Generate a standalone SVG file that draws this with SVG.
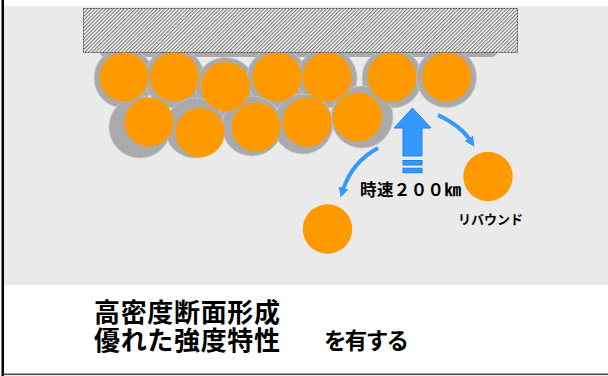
<svg xmlns="http://www.w3.org/2000/svg" width="608" height="376" viewBox="0 0 608 376">
  <defs>
    <pattern id="hatch" width="2.6" height="2.6" patternUnits="userSpaceOnUse" patternTransform="rotate(45)">
      <rect width="2.6" height="2.6" fill="#ffffff"/>
      <line x1="0.6" y1="0" x2="0.6" y2="2.6" stroke="#7f7f7f" stroke-width="1.3"/>
    </pattern>
    <marker id="head" markerUnits="userSpaceOnUse" markerWidth="12" markerHeight="12" refX="2" refY="5" orient="auto">
      <path d="M0,0 L10,5 L0,10 Z" fill="#3399ff"/>
    </marker>
    <style>
      .shadow { fill: #aaaaaa; stroke: #c6c6c6; stroke-width: 0.8; }
      .ball { fill: #ff9900; }
      .arc { fill: none; stroke: #3399ff; stroke-width: 4; marker-end: url(#head); }
      .arrow { fill: #3399ff; stroke: #1f80e6; stroke-width: 1; }
      .jp { font-family: "Noto Sans CJK JP", "Noto Sans CJK SC", sans-serif; font-weight: bold; fill: #000000; }
    </style>
  </defs>

  <!-- panels -->
  <rect x="0" y="0" width="608" height="376" fill="#ffffff"/>
  <rect x="3" y="6" width="605" height="279" fill="#eaeaea"/>
  <rect x="1.5" y="0" width="2.5" height="376" fill="#000000"/>
  <rect x="3" y="373.5" width="605" height="1.6" fill="#444444"/>

  <!-- shadow strip under the plate -->
  <rect x="100" y="44" width="397" height="13" rx="5" fill="#aaaaaa"/>

  <!-- fibre shadows -->
  <g id="shadows">
    <circle class="shadow" cx="124" cy="78" r="30"/>
    <circle class="shadow" cx="174.5" cy="78" r="30"/>
    <circle class="shadow" cx="225.5" cy="87.5" r="30"/>
    <circle class="shadow" cx="277" cy="78" r="30"/>
    <circle class="shadow" cx="327" cy="78" r="30"/>
    <circle class="shadow" cx="392" cy="78" r="30"/>
    <circle class="shadow" cx="446.5" cy="77.5" r="30"/>
    <circle class="shadow" cx="140" cy="127" r="31"/>
    <circle class="shadow" cx="195" cy="128" r="30"/>
    <circle class="shadow" cx="252" cy="126" r="30"/>
    <circle class="shadow" cx="303" cy="124" r="30"/>
    <circle class="shadow" cx="362" cy="117" r="31"/>
  </g>

  <!-- plate -->
  <g id="plate">
    <rect x="83.5" y="8.5" width="434" height="44" fill="url(#hatch)" stroke="#555555" stroke-width="1" stroke-dasharray="2 1"/>
  </g>

  <!-- fibres -->
  <g id="fibres">
    <circle class="ball" cx="124" cy="77" r="24.5"/>
    <circle class="ball" cx="174.5" cy="77" r="24.5"/>
    <circle class="ball" cx="225.5" cy="86.5" r="24.5"/>
    <circle class="ball" cx="277" cy="77" r="24.5"/>
    <circle class="ball" cx="327" cy="77" r="24.5"/>
    <circle class="ball" cx="392" cy="77" r="24.5"/>
    <circle class="ball" cx="446.5" cy="77" r="24.5"/>
    <circle class="ball" cx="149" cy="122" r="24.5"/>
    <circle class="ball" cx="200" cy="132.5" r="24.5"/>
    <circle class="ball" cx="256" cy="127" r="24.5"/>
    <circle class="ball" cx="307" cy="122" r="24.5"/>
    <circle class="ball" cx="357.5" cy="117" r="24.5"/>
  </g>

  <!-- balls -->
  <g id="ball-fallen">
    <circle class="ball" cx="327.5" cy="229" r="24.7"/>
  </g>
  <g id="ball-rebound">
    <circle class="ball" cx="488" cy="176.5" r="24.7"/>
    <text class="jp" x="458" y="224" font-size="13" textLength="65">リバウンド</text>
  </g>

  <!-- impact arrow -->
  <g id="impact">
    <polygon class="arrow" points="412.5,108 431,128 422,128 422,156 403,156 403,128 394,128"/>
    <rect class="arrow" x="403" y="160.5" width="19" height="4.5" stroke="none"/>
    <rect class="arrow" x="403" y="168.2" width="19" height="4.5" stroke="none"/>
    <text class="jp" x="360" y="195.5" font-size="16.5" textLength="101">時速２００㎞</text>
  </g>

  <!-- connectors -->
  <g id="connectors">
    <path class="arc" d="M378,148 Q352,162 343,190"/>
    <path class="arc" d="M438,115 Q461,126 470,140"/>
  </g>

  <!-- caption -->
  <g id="caption">
    <text class="jp" font-size="26">
      <tspan x="94" y="322" textLength="186">高密度断面形成</tspan>
      <tspan x="94" y="350" textLength="186">優れた強度特性</tspan>
    </text>
    <text class="jp" x="324" y="349" font-size="22.5" textLength="85">を有する</text>
  </g>
</svg>
